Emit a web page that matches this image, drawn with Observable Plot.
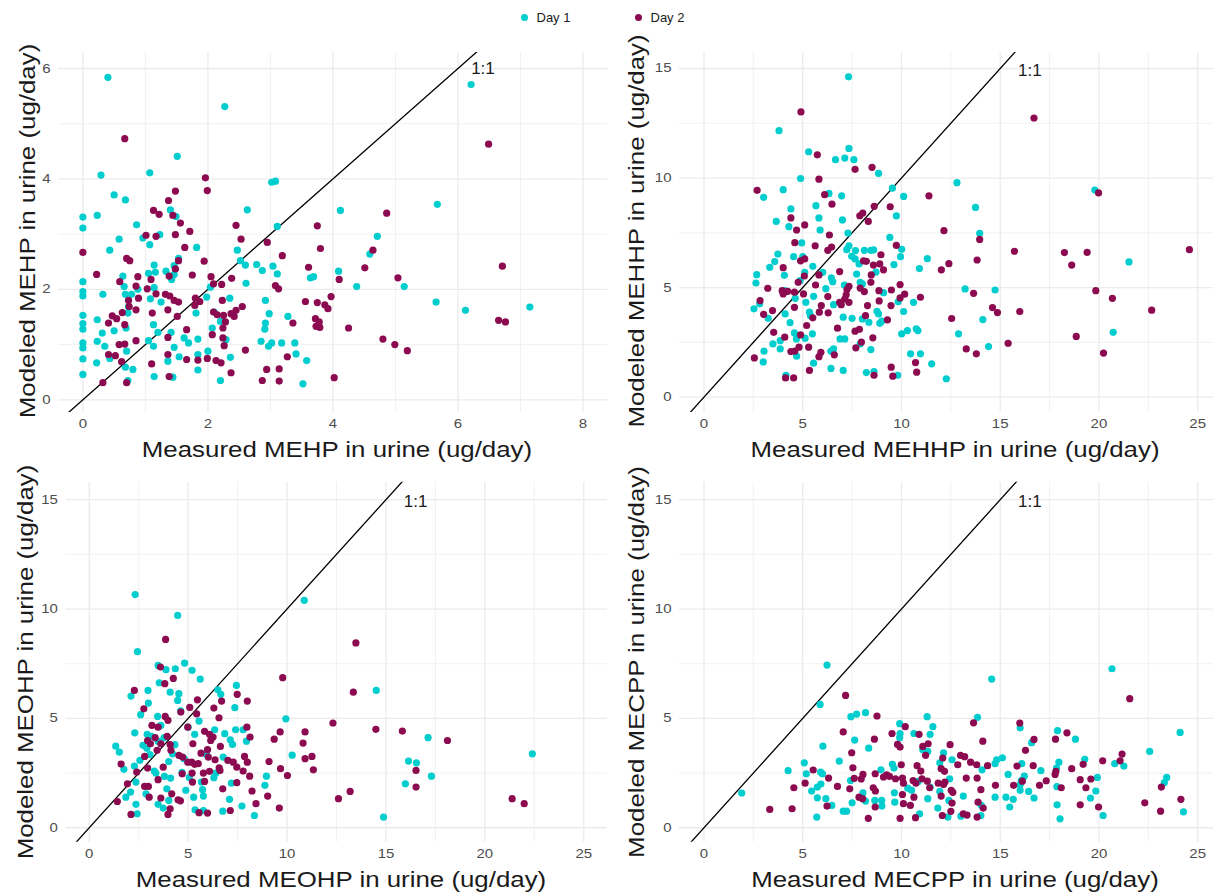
<!DOCTYPE html>
<html><head><meta charset="utf-8">
<script src="https://cdn.jsdelivr.net/npm/d3@7"></script>
<script src="https://cdn.jsdelivr.net/npm/@observablehq/plot@0.6"></script>
<style>
body{margin:0;background:#fff;overflow:hidden;font-family:"Liberation Sans",Arial,sans-serif;}
#root{position:relative;width:1213px;height:895px;overflow:hidden;background:#fff;}
.panel{position:absolute;}
.xt,.yt{position:absolute;font-size:22px;color:#1a1a1a;white-space:nowrap;line-height:1;}
.xt{transform:translate(-50%,-50%) scaleX(1.175);}
.yt{transform:translate(-50%,-50%) rotate(-90deg) scaleX(1.175);}
.leg{position:absolute;top:11px;font-size:13px;color:#1a1a1a;display:flex;align-items:center;line-height:1;}
.leg span.d{display:inline-block;width:7px;height:7px;border-radius:50%;margin-right:9px;}
</style></head>
<body><div id="root"></div>
<script>
// ---- categories / labels ----
const compounds = ["MEHP", "MEHHP", "MEOHP", "MECPP"];
const days = ["Day 1", "Day 2"];
const dayColors = ["#00CDCD", "#8B0A50"];
const ticksSmall = [0, 2, 4, 6, 8];
const ticksSmallY = [0, 2, 4, 6];
const ticksLarge = [0, 5, 10, 15, 20, 25];
const ticksLargeY = [0, 5, 10, 15];
const oneToOneLabel = "1:1";
const labelPosMEHP = [6.4, 6.0];
const labelPosOther = [16.5, 14.9];

// ---- MEHP ----
const mehpDay1 = [[0.40,5.84],[2.27,5.31],[6.21,5.71],[1.51,4.41],[0.29,4.07],[1.07,4.11],[3.02,3.94],[3.08,3.96],[0.50,3.71],[0.68,3.62],[5.67,3.54],[0,3.31],[0.23,3.34],[0,3.11],[1.40,3.44],[2.63,3.44],[4.12,3.43],[0.86,3.17],[1.49,3.32],[3.11,3.14],[0.96,2.93],[1.23,2.99],[0.58,2.91],[4.71,2.96],[0.43,2.71],[1.07,2.81],[2.47,2.71],[1.82,2.76],[4.59,2.64],[1.53,2.56],[1.14,2.44],[1.46,2.43],[2.60,2.44],[2.78,2.45],[2.52,2.52],[3.04,2.42],[2.87,2.34],[3.11,2.28],[1.16,2.31],[1.05,2.29],[1.33,2.33],[1.46,2.27],[0.64,2.24],[4.09,2.33],[1.42,2.18],[0,2.14],[3.64,2.21],[3.69,2.23],[2.61,2.11],[0.66,2.05],[1.14,2.03],[4.38,2.05],[5.14,2.05],[0,1.96],[0,1.88],[0.32,1.91],[0.68,1.91],[0.78,1.91],[0.88,2.00],[2.04,2.04],[1.98,1.86],[2.35,1.84],[2.92,1.80],[1.08,1.83],[1.25,1.77],[5.65,1.77],[7.15,1.68],[6.12,1.62],[0.73,1.69],[0.72,1.57],[1.81,1.57],[2.10,1.59],[0,1.53],[2.98,1.56],[3.28,1.51],[0.23,1.45],[2.20,1.42],[0,1.38],[0,1.28],[1.13,1.36],[2.92,1.39],[2.91,1.28],[2.07,1.30],[0.50,1.25],[0.31,1.21],[0.69,1.30],[1.20,1.22],[1.41,1.22],[1.62,1.12],[1.84,1.10],[1.69,1.03],[2.29,1.09],[2.85,1.06],[3.02,1.03],[3.18,1.03],[3.39,1.03],[0,1.03],[0.23,1.06],[0,0.94],[1.05,1.07],[0.35,0.97],[1.13,0.97],[1.46,0.95],[2.00,0.88],[0.70,0.88],[2.97,0.97],[1.84,0.82],[3.41,0.83],[0.43,0.75],[0,0.74],[1.36,0.70],[1.54,0.78],[2.36,0.77],[0.22,0.67],[3.58,0.71],[0.68,0.59],[0.80,0.55],[1.84,0.54],[0,0.46],[1.14,0.42],[1.44,0.41],[2.20,0.35],[3.52,0.29],[0.72,0.35]];
const mehpDay2 = [[0.67,4.73],[6.49,4.63],[1.96,4.02],[1.99,3.79],[1.48,3.78],[1.37,3.61],[1.13,3.43],[1.22,3.36],[1.44,3.34],[1.56,3.20],[2.45,3.16],[3.75,3.15],[4.86,3.38],[1.71,3.05],[1.01,2.98],[1.17,2.96],[1.48,2.99],[2.53,2.91],[2.95,2.85],[1.63,2.76],[3.80,2.74],[4.64,2.71],[0,2.67],[3.19,2.61],[0.70,2.56],[0.75,2.52],[1.53,2.52],[1.94,2.51],[6.71,2.42],[4.51,2.39],[3.61,2.40],[1.48,2.37],[0.22,2.27],[1.75,2.26],[1.38,2.24],[0.88,2.23],[2.05,2.23],[1.09,2.18],[2.38,2.20],[5.04,2.21],[4.10,2.18],[0.59,2.14],[2.22,2.09],[2.09,2.10],[3.08,2.07],[3.13,2.01],[0.85,2.06],[1.03,2.01],[1.17,1.92],[1.32,1.91],[1.39,1.88],[3.97,1.87],[0.89,1.84],[1.80,1.84],[0.73,1.80],[1.46,1.80],[1.53,1.77],[1.87,1.78],[3.56,1.78],[3.75,1.76],[2.23,1.80],[1.79,1.71],[2.55,1.69],[3.87,1.72],[3.92,1.65],[0.74,1.69],[0.85,1.63],[1.36,1.63],[1.11,1.57],[0.63,1.58],[2.09,1.59],[2.15,1.54],[2.25,1.53],[2.37,1.56],[2.45,1.62],[1.51,1.51],[0.47,1.52],[2.42,1.51],[3.72,1.47],[0.54,1.47],[6.65,1.44],[6.76,1.41],[2.28,1.41],[0.41,1.39],[0.67,1.36],[3.36,1.39],[3.78,1.41],[3.73,1.33],[3.79,1.31],[4.25,1.30],[2.24,1.30],[1.66,1.27],[2.07,1.18],[1.36,1.13],[2.24,1.12],[4.80,1.10],[0.85,1.07],[4.99,1.00],[0.58,1.00],[0.67,1.01],[2.26,0.98],[2.60,0.90],[5.19,0.89],[1.36,0.82],[0.41,0.82],[0.52,0.80],[3.27,0.78],[1.66,0.73],[1.84,0.72],[1.99,0.75],[0.62,0.69],[2.13,0.71],[2.21,0.67],[1.10,0.65],[2.94,0.55],[3.14,0.56],[2.37,0.49],[1.38,0.42],[4.02,0.40],[2.87,0.35],[3.14,0.34],[0.32,0.31],[0.70,0.31]];

// ---- MEHHP ----
const mehhpDay1 = [[7.32,14.62],[3.80,12.16],[5.30,11.20],[7.34,11.35],[6.66,10.84],[7.13,10.91],[7.59,10.84],[8.84,10.21],[4.89,9.98],[12.81,9.79],[4.01,9.47],[3.02,9.12],[6.33,9.30],[6.97,9.19],[9.54,9.54],[10.11,9.16],[19.79,9.45],[13.75,8.66],[4.40,8.59],[5.67,8.74],[5.82,8.18],[9.74,8.27],[7.01,8.09],[3.66,8.02],[4.30,7.78],[5.88,7.63],[7.29,7.49],[13.96,7.48],[9.41,7.29],[4.95,7.04],[7.34,6.91],[8.12,6.70],[8.45,6.70],[8.59,6.72],[7.67,6.69],[7.23,6.73],[10.01,6.75],[3.74,6.53],[4.54,6.41],[5.00,6.41],[7.48,6.43],[7.65,6.31],[9.95,6.41],[11.31,6.32],[21.52,6.17],[3.58,6.19],[3.33,5.93],[5.51,5.97],[7.85,6.08],[9.62,6.05],[10.91,5.87],[2.67,5.59],[4.07,5.56],[5.10,5.70],[6.01,5.70],[7.73,5.62],[8.71,5.71],[6.45,5.44],[6.52,5.27],[2.63,5.21],[4.87,5.32],[7.91,5.24],[8.02,5.17],[7.11,5.12],[6.17,4.95],[13.22,4.94],[14.74,4.89],[9.09,4.77],[2.82,4.26],[4.09,4.86],[4.62,4.51],[5.16,4.33],[5.55,4.60],[6.56,4.22],[9.83,4.35],[10.61,4.33],[2.53,4.03],[3.25,3.60],[4.11,3.80],[5.34,3.88],[5.39,3.72],[8.76,3.92],[8.84,3.80],[10.11,3.91],[4.36,3.40],[7.05,3.65],[7.50,3.60],[8.02,3.57],[8.35,3.42],[8.90,3.37],[9.00,3.47],[14.12,3.54],[4.58,2.93],[5.49,2.89],[10.75,3.12],[10.83,3.04],[10.30,3.04],[10.01,2.89],[12.89,2.89],[20.72,2.96],[6.89,2.66],[7.13,2.66],[3.86,2.58],[4.68,2.66],[5.12,2.69],[3.49,2.43],[7.91,2.43],[3.86,2.20],[3.04,2.10],[8.45,2.17],[6.56,2.20],[6.43,2.10],[4.69,1.87],[10.46,1.98],[10.96,1.98],[14.41,2.31],[3.00,1.61],[5.55,1.55],[11.53,1.52],[6.43,1.31],[7.05,1.22],[8.22,1.12],[8.61,1.17],[4.15,1.00],[9.81,1.00],[12.27,0.84]];
const mehhpDay2 = [[4.91,13.02],[16.71,12.74],[5.74,11.06],[7.65,10.40],[8.51,10.49],[5.82,9.95],[2.69,9.44],[11.39,9.19],[19.98,9.32],[6.11,9.24],[6.48,8.81],[8.62,8.71],[9.43,8.69],[7.89,8.28],[8.04,8.40],[8.32,8.02],[4.40,8.18],[5.10,7.86],[4.69,7.63],[12.15,7.60],[13.96,7.20],[6.35,7.40],[4.60,7.05],[5.63,6.91],[9.74,6.93],[6.27,6.70],[6.46,6.85],[15.72,6.66],[18.25,6.60],[19.40,6.61],[24.58,6.73],[8.96,6.50],[13.83,6.26],[5.10,6.31],[4.89,6.22],[8.08,6.22],[8.22,6.20],[8.58,6.03],[8.90,6.08],[12.40,6.09],[18.62,6.03],[9.09,5.81],[12.02,5.81],[4.01,5.91],[6.87,5.73],[5.82,5.58],[8.47,5.58],[5.08,5.53],[4.77,5.24],[8.45,5.24],[9.93,5.14],[5.65,5.12],[7.34,5.06],[3.23,4.97],[3.96,4.86],[4.24,4.83],[4.01,4.71],[4.58,4.79],[7.24,4.91],[7.91,4.98],[8.12,4.82],[8.86,4.86],[9.49,4.89],[19.84,4.86],[7.20,4.67],[10.16,4.70],[13.65,4.74],[5.04,4.71],[6.27,4.59],[7.13,4.48],[9.93,4.53],[10.96,4.56],[20.68,4.51],[2.84,4.41],[6.87,4.33],[6.95,4.22],[7.34,4.33],[8.87,4.39],[4.58,4.10],[5.94,4.18],[8.28,4.18],[9.47,4.18],[14.61,4.09],[3.47,3.95],[3.02,3.78],[5.84,3.88],[6.29,3.85],[14.86,3.86],[15.99,3.91],[22.67,3.97],[8.18,3.72],[5.51,3.62],[9.29,3.53],[12.54,3.59],[5.20,3.27],[6.76,3.15],[7.65,3.01],[7.87,3.10],[3.53,2.96],[4.89,2.84],[4.09,2.74],[8.55,2.71],[18.85,2.77],[7.97,2.51],[15.40,2.46],[5.30,2.28],[4.81,2.28],[13.28,2.20],[13.79,1.98],[20.23,2.01],[4.40,2.08],[4.60,2.10],[7.69,2.25],[5.92,2.05],[5.82,1.85],[6.60,1.93],[2.55,1.79],[10.71,1.58],[9.48,1.37],[5.34,1.22],[10.77,1.14],[4.13,0.88],[4.54,0.88],[8.61,1.00],[9.56,0.96]];

// ---- MEOHP ----
const meohpDay1 = [[2.32,10.66],[10.87,10.40],[4.47,9.71],[2.44,8.05],[4.82,7.53],[3.48,7.42],[4.35,7.27],[3.88,7.23],[5.20,7.20],[5.61,6.80],[3.54,6.63],[7.44,6.51],[2.97,6.28],[14.51,6.28],[4.09,6.20],[4.53,6.13],[6.50,6.31],[6.65,6.10],[2.11,6.02],[2.99,5.70],[4.47,5.82],[7.36,5.49],[4.62,5.34],[2.60,5.17],[3.46,5.09],[9.94,4.98],[5.55,4.88],[5.00,4.60],[3.62,4.68],[6.34,4.48],[7.40,4.48],[7.78,4.48],[2.30,4.34],[6.85,4.30],[2.93,4.27],[3.15,4.18],[3.78,4.12],[5.33,4.27],[17.13,4.12],[7.13,4.02],[7.95,3.96],[3.48,3.96],[2.72,3.77],[2.91,3.63],[1.34,3.73],[4.33,3.80],[7.24,3.81],[1.52,3.46],[3.07,3.35],[4.21,3.38],[5.93,3.35],[10.26,3.32],[6.77,3.23],[4.80,3.16],[2.56,3.08],[4.02,3.03],[22.40,3.38],[16.14,3.05],[16.54,2.97],[2.28,2.82],[1.75,2.67],[3.29,2.59],[3.37,2.50],[4.69,2.53],[6.40,2.50],[8.96,2.36],[17.30,2.36],[3.80,2.35],[4.11,2.27],[5.06,2.30],[6.30,2.29],[2.36,2.09],[5.67,2.09],[7.19,2.04],[8.88,1.94],[15.98,2.01],[2.09,1.63],[3.92,1.78],[4.88,1.71],[5.73,1.74],[1.85,1.40],[2.87,1.55],[4.02,1.25],[5.28,1.40],[5.77,1.45],[7.09,1.30],[2.36,1.07],[3.48,1.07],[7.72,0.99],[3.74,0.90],[5.35,0.82],[5.77,0.79],[6.75,0.76],[2.42,0.64],[8.35,0.56],[14.88,0.49]];
const meohpDay2 = [[3.86,8.61],[13.48,8.45],[3.60,7.35],[4.25,6.83],[9.78,6.86],[2.28,6.28],[3.82,6.59],[13.35,6.20],[7.48,6.10],[7.99,5.79],[6.69,5.79],[5.47,5.85],[2.76,5.44],[4.63,5.29],[6.30,5.47],[5.43,5.21],[5.08,5.50],[3.84,5.09],[3.98,4.91],[6.56,5.03],[12.32,4.79],[3.17,4.68],[3.48,4.60],[4.98,4.60],[7.97,4.60],[14.49,4.50],[15.83,4.42],[10.91,4.38],[9.65,4.38],[5.83,4.41],[6.08,4.27],[3.33,4.12],[3.94,4.18],[6.26,4.15],[8.13,4.15],[9.35,4.05],[18.11,3.99],[2.95,3.99],[3.09,3.84],[3.62,3.84],[4.09,3.80],[5.24,3.84],[6.14,3.99],[10.81,3.87],[6.63,3.72],[3.43,3.54],[4.13,3.54],[5.98,3.57],[4.53,3.31],[4.72,3.23],[5.65,3.41],[2.80,3.26],[6.02,3.23],[7.85,3.26],[11.26,3.26],[10.91,3.16],[6.36,3.11],[7.01,3.08],[7.28,3.00],[7.99,3.00],[9.09,3.03],[1.61,2.91],[4.98,3.00],[5.18,3.00],[5.33,2.90],[5.51,2.93],[2.95,2.73],[3.74,2.77],[6.57,2.74],[7.46,2.77],[9.67,2.70],[11.33,2.65],[16.52,2.62],[2.40,2.55],[4.70,2.47],[5.20,2.50],[5.77,2.50],[6.08,2.58],[6.61,2.62],[7.78,2.59],[10.02,2.39],[8.11,2.36],[3.48,2.20],[5.22,2.09],[5.83,2.12],[7.46,2.06],[1.93,2.01],[2.80,1.89],[2.99,1.89],[16.52,1.86],[6.75,1.78],[8.23,1.68],[13.19,1.66],[4.17,1.55],[3.03,1.40],[3.62,1.36],[9.02,1.45],[4.49,1.28],[4.61,1.23],[12.60,1.33],[21.38,1.33],[1.42,1.20],[21.99,1.10],[8.43,1.10],[4.09,0.87],[9.61,0.90],[7.13,0.79],[5.55,0.69],[5.98,0.67],[2.11,0.61],[3.98,0.61]];

// ---- MECPP ----
const mecppDay1 = [[6.23,7.44],[20.66,7.27],[14.57,6.80],[5.88,5.64],[8.18,5.26],[7.73,5.20],[7.44,5.08],[11.30,5.08],[13.85,5.05],[9.91,4.76],[11.59,4.62],[16.01,4.57],[17.90,4.44],[24.11,4.36],[9.93,4.31],[10.63,4.31],[11.45,4.27],[9.91,4.12],[18.81,4.05],[7.63,4.01],[16.59,3.89],[6.02,3.73],[8.34,3.64],[11.08,3.57],[11.33,3.49],[12.13,3.43],[22.57,3.49],[15.11,3.20],[12.56,3.11],[14.82,3.11],[19.28,3.13],[17.97,3.00],[6.85,3.05],[5.08,2.97],[14.74,2.93],[20.80,2.93],[16.09,2.93],[11.94,2.97],[21.26,2.82],[9.54,2.90],[9.62,2.73],[4.26,2.61],[5.90,2.55],[6.00,2.47],[8.96,2.65],[14.08,2.65],[17.85,2.73],[17.06,2.61],[5.18,2.47],[15.40,2.44],[23.43,2.30],[16.22,2.36],[19.92,2.30],[12.44,2.24],[7.42,2.16],[23.31,2.06],[16.07,2.16],[10.85,2.12],[5.92,2.00],[5.74,1.86],[16.01,1.97],[17.87,1.88],[11.45,1.86],[10.32,1.81],[10.51,1.71],[5.45,1.68],[8.05,1.60],[9.64,1.60],[11.94,1.66],[19.84,1.68],[16.01,1.71],[16.44,1.66],[13.13,1.45],[14.74,1.40],[15.29,1.40],[5.74,1.37],[6.17,1.33],[8.65,1.25],[9.00,1.25],[11.33,1.33],[16.71,1.36],[19.57,1.36],[15.66,1.30],[12.40,1.25],[8.18,1.22],[9.66,1.17],[7.50,1.14],[6.47,1.02],[9.01,0.99],[14.04,1.02],[17.88,1.05],[11.84,0.90],[15.48,0.95],[7.05,0.76],[7.22,0.76],[10.92,0.64],[14.02,0.56],[20.21,0.56],[12.35,0.49],[5.71,0.49],[13.01,0.53],[18.03,0.41],[24.28,0.73],[1.91,1.59]];
const mecppDay2 = [[7.17,6.05],[21.56,5.90],[7.05,4.38],[8.76,5.11],[10.19,4.62],[9.52,4.31],[13.65,4.80],[15.99,4.79],[18.38,4.34],[17.80,4.05],[16.71,4.04],[8.63,4.05],[9.80,3.81],[9.93,3.69],[10.89,4.27],[14.12,3.96],[12.46,3.80],[11.08,3.72],[11.35,3.84],[7.48,3.43],[16.28,3.54],[21.17,3.37],[12.99,3.31],[13.20,3.25],[12.09,3.19],[11.22,3.31],[13.50,3.00],[12.85,2.88],[13.81,2.88],[14.36,2.84],[15.85,2.82],[16.67,2.84],[19.20,2.90],[20.19,3.06],[21.07,3.06],[9.99,2.88],[10.79,2.84],[7.54,2.74],[12.01,2.70],[5.53,2.64],[12.18,2.58],[18.62,2.70],[17.82,2.58],[8.67,2.47],[8.05,2.44],[9.25,2.42],[10.98,2.59],[6.31,2.27],[7.61,2.26],[7.96,2.23],[9.09,2.32],[9.39,2.35],[9.70,2.24],[10.05,2.27],[10.59,2.16],[11.04,2.24],[11.31,2.13],[13.28,2.27],[13.83,2.27],[17.33,2.15],[17.78,2.44],[19.05,2.20],[19.59,2.23],[16.12,2.13],[5.12,2.04],[10.10,2.04],[10.73,2.04],[11.86,2.04],[12.13,1.98],[12.20,2.09],[14.76,1.94],[15.68,1.94],[16.99,1.94],[4.55,1.83],[6.76,1.89],[7.38,1.78],[8.57,1.83],[11.43,1.83],[18.09,1.83],[19.34,1.83],[23.16,1.86],[8.68,1.68],[12.52,1.71],[12.60,1.62],[14.02,1.74],[7.85,1.40],[8.03,1.33],[10.05,1.52],[10.63,1.40],[12.01,1.45],[13.88,1.17],[12.56,1.13],[22.32,1.14],[24.15,1.30],[10.10,1.10],[10.45,1.02],[6.23,0.99],[8.67,0.95],[14.14,0.90],[19.05,1.05],[19.98,0.95],[3.33,0.84],[4.46,0.87],[12.50,0.75],[23.12,0.76],[13.13,0.64],[13.32,0.58],[12.07,0.56],[8.32,0.43],[9.93,0.43],[10.71,0.46],[13.83,0.49]];

// ---- layout (positions/styles only) ----
const panels = [
  {name: compounds[0], d1: mehpDay1,  d2: mehpDay2,  left: 0,   top: 0,   xDom: [-0.39, 8.4],  yDom: [-0.23, 6.29], xT: ticksSmall, yT: ticksSmallY, lab: labelPosMEHP,
   ml: 58, mr: 2.5, mt: 52, mb: 58, w: 610, xtPos: [337, 450], ytPos: [28, 231]},
  {name: compounds[1], d1: mehhpDay1, d2: mehhpDay2, left: 610, top: 0,   xDom: [-1.24, 25.8], yDom: [-0.7, 15.73], xT: ticksLarge, yT: ticksLargeY, lab: labelPosOther,
   ml: 69, mr: 0, mt: 52, mb: 58, w: 603, xtPos: [955, 450], ytPos: [637, 231]},
  {name: compounds[2], d1: meohpDay1, d2: meohpDay2, left: 0,   top: 430, xDom: [-1.18, 26.2], yDom: [-0.66, 15.8], xT: ticksLarge, yT: ticksLargeY, lab: labelPosOther,
   ml: 65.4, mr: 3, mt: 51.7, mb: 53, w: 610, xtPos: [341, 880], ytPos: [26, 662]},
  {name: compounds[3], d1: mecppDay1, d2: mecppDay2, left: 610, top: 430, xDom: [-1.24, 25.8], yDom: [-0.66, 15.8], xT: ticksLarge, yT: ticksLargeY, lab: labelPosOther,
   ml: 69, mr: 0, mt: 51.7, mb: 53, w: 603, xtPos: [955, 880], ytPos: [637, 662]}
];

const root = document.getElementById("root");

// legend
days.forEach((d, i) => {
  const el = document.createElement("div");
  el.className = "leg";
  el.style.left = (i === 0 ? 520.5 : 634.5) + "px";
  el.innerHTML = `<span class="d" style="background:${dayColors[i]}"></span>${d}`;
  root.appendChild(el);
});

function minorTicks(ticks, dom) {
  const step = ticks[1] - ticks[0];
  const out = [];
  for (let v = ticks[0] - step / 2; v <= ticks[ticks.length - 1] + step / 2 + 1e-9; v += step) {
    if (v > dom[0] && v < dom[1]) out.push(v);
  }
  return out;
}

panels.forEach(p => {
  const h = p.mt + 360 + p.mb;
  const xTicks = p.xT.filter(t => t >= p.xDom[0] && t <= p.xDom[1]);
  const yTicks = p.yT.filter(t => t >= p.yDom[0] && t <= p.yDom[1]);
  const lo = Math.min(p.xDom[0], p.yDom[0]), hi = Math.max(p.xDom[1], p.yDom[1]);
  const diag = [lo, hi];
  const pts1 = p.d1.map(([x, y]) => ({x, y, day: days[0]}));
  const pts2 = p.d2.map(([x, y]) => ({x, y, day: days[1]}));
  const fmt = d => String(d);
  const chart = Plot.plot({
    width: p.w, height: h,
    marginLeft: p.ml, marginRight: p.mr, marginTop: p.mt, marginBottom: p.mb,
    style: {fontFamily: "Liberation Sans, Arial, sans-serif", fontSize: "12.5px", color: "#4d4d4d", background: "transparent", overflow: "visible"},
    x: {domain: p.xDom},
    y: {domain: p.yDom},
    marks: [
      Plot.gridX(minorTicks(xTicks, p.xDom), {stroke: "#ebebeb", strokeOpacity: 1, strokeWidth: 0.7}),
      Plot.gridY(minorTicks(yTicks, p.yDom), {stroke: "#ebebeb", strokeOpacity: 1, strokeWidth: 0.7}),
      Plot.gridX(xTicks, {stroke: "#ebebeb", strokeOpacity: 1, strokeWidth: 1.3}),
      Plot.gridY(yTicks, {stroke: "#ebebeb", strokeOpacity: 1, strokeWidth: 1.3}),
      Plot.axisX(xTicks, {tickSize: 0, tickPadding: 7, label: null, tickFormat: fmt, fill: "#4d4d4d", fontSize: 12.5}),
      Plot.axisY(yTicks, {tickSize: 0, tickPadding: 8, label: null, tickFormat: fmt, fill: "#4d4d4d", fontSize: 12.5}),
      Plot.line(diag, {x: d => d, y: d => d, stroke: "#000", strokeWidth: 1.3, clip: true}),
      Plot.dot(pts1, {x: "x", y: "y", r: 3.6, fill: dayColors[0], stroke: "none", clip: true}),
      Plot.dot(pts2, {x: "x", y: "y", r: 3.6, fill: dayColors[1], stroke: "none", clip: true}),
      Plot.text([p.lab], {x: d => d[0], y: d => d[1], text: () => oneToOneLabel, fontSize: 17, fill: "#1a1a1a"})
    ]
  });
  const wrap = document.createElement("div");
  wrap.className = "panel";
  wrap.style.left = p.left + "px";
  wrap.style.top = p.top + "px";
  wrap.appendChild(chart);
  root.appendChild(wrap);

  // the reference glyphs are horizontally widened: stretch tick labels a little
  chart.querySelectorAll('g[aria-label="x-axis tick label"] text, g[aria-label="y-axis tick label"] text').forEach(t => {
    const len = t.getComputedTextLength();
    if (len > 0) {
      t.setAttribute("textLength", (len * 1.2).toFixed(2));
      t.setAttribute("lengthAdjust", "spacingAndGlyphs");
    }
  });

  const xt = document.createElement("div");
  xt.className = "xt";
  xt.style.left = p.xtPos[0] + "px";
  xt.style.top = p.xtPos[1] + "px";
  xt.textContent = `Measured ${p.name} in urine (ug/day)`;
  root.appendChild(xt);

  const yt = document.createElement("div");
  yt.className = "yt";
  yt.style.left = p.ytPos[0] + "px";
  yt.style.top = p.ytPos[1] + "px";
  yt.textContent = `Modeled ${p.name} in urine (ug/day)`;
  root.appendChild(yt);
});
</script>
</body></html>
